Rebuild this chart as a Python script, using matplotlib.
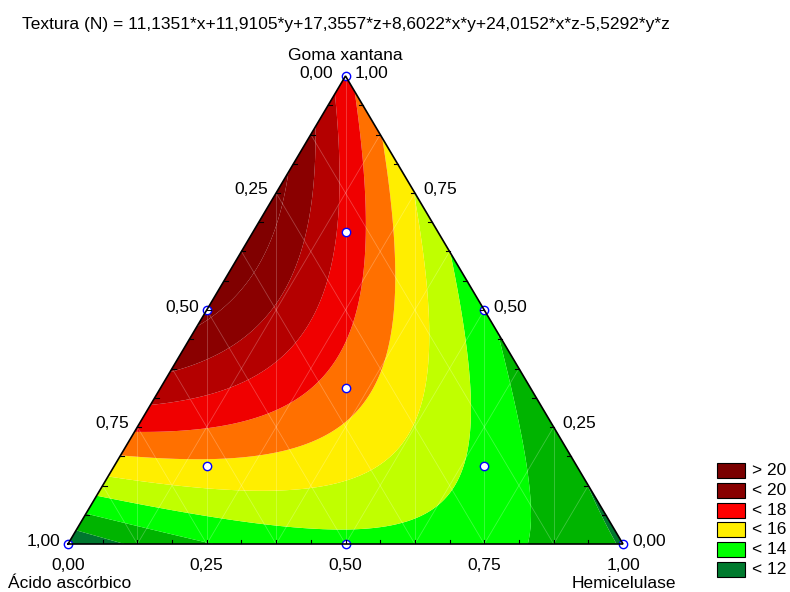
import numpy as np
import matplotlib
matplotlib.use('Agg')
import matplotlib.pyplot as plt
import matplotlib.tri as mtri
from matplotlib.colors import ListedColormap, BoundaryNorm
from matplotlib.patches import Rectangle

plt.rcParams['font.family'] = ['Liberation Sans', 'DejaVu Sans']

# ---- model coefficients (x = Ácido ascórbico, y = Hemicelulase, z = Goma xantana)
c_x, c_y, c_z = 11.1351, 11.9105, 17.3557
c_xy, c_xz, c_yz = 8.6022, 24.0152, -5.5292

title = "Textura (N) = 11,1351*x+11,9105*y+17,3557*z+8,6022*x*y+24,0152*x*z-5,5292*y*z"
name_x, name_y, name_z = "Ácido ascórbico", "Hemicelulase", "Goma xantana"

levels = [10, 12, 13, 14, 15, 16, 17, 18, 19, 20, 22]
band_colors = ['#00772F', '#00B400', '#00FF00', '#C0FF00', '#FFEE00',
               '#FF7000', '#F00000', '#B40000', '#8A0000', '#800000']

legend_labels = ['> 20', '< 20', '< 18', '< 16', '< 14', '< 12']
legend_colors = ['#7A0000', '#880000', '#FF0000', '#FFEE00', '#00FF00', '#007A2E']

tick_values = [0.0, 0.25, 0.5, 0.75, 1.0]
tick_labels = ['0,00', '0,25', '0,50', '0,75', '1,00']

# design points (x, y, z)
dp_x = [1, 0, 0, 0.5, 0.5, 0, 1/3, 2/3, 1/6, 1/6]
dp_y = [0, 1, 0, 0.5, 0, 0.5, 1/3, 1/6, 2/3, 1/6]
dp_z = [0, 0, 1, 0, 0.5, 0.5, 1/3, 1/6, 1/6, 2/3]

W, H = 790, 592
TRI_W, TRI_H = 555, 468
h = TRI_H / TRI_W


def to_xy(x, y, z):
    x, y, z = np.asarray(x, float), np.asarray(y, float), np.asarray(z, float)
    s = x + y + z
    return (y + z / 2) / s, z * h / s


def model(x, y, z):
    return c_x*x + c_y*y + c_z*z + c_xy*x*y + c_xz*x*z + c_yz*y*z


fig = plt.figure(figsize=(W/100, H/100), dpi=100)
ax = fig.add_axes([68/W, (H-544)/H, TRI_W/W, TRI_H/H])
ax.set_xlim(0, 1)
ax.set_ylim(0, h)
ax.axis('off')

# mesh for contouring
n = 120
pts = [(i/n, j/n) for i in range(n+1) for j in range(n+1-i)]
gx = np.array([p[0] for p in pts])
gy = np.array([p[1] for p in pts])
gz = np.clip(1 - gx - gy, 0, 1)
X, Y = to_xy(gx, gy, gz)
Z = model(gx, gy, gz)
tri = mtri.Triangulation(X, Y)
cmap = ListedColormap(band_colors)
norm = BoundaryNorm(levels, cmap.N)
ax.tricontourf(tri, Z, levels=levels, cmap=cmap, norm=norm, zorder=1, antialiased=True)

# faint mesh lines
m = 8
for k in range(1, m):
    v = k / m
    a = to_xy([1 - v, 0], [v, v], [0, 1 - v])
    ax.plot(a[0], a[1], color='white', alpha=0.25, lw=0.6, zorder=2)
    a = to_xy([v, v], [1 - v, 0], [0, 1 - v])
    ax.plot(a[0], a[1], color='white', alpha=0.25, lw=0.6, zorder=2)
    top = h * (1 - abs(2 * v - 1))
    ax.plot([v, v], [0, top], color='white', alpha=0.25, lw=0.6, zorder=2)

# triangle border
bx, by = to_xy([1, 0, 0, 1], [0, 1, 0, 0], [0, 0, 1, 0])
ax.plot(bx, by, color='black', lw=1.2, zorder=5, clip_on=False, solid_joinstyle='miter')

# minor ticks every 1/16
tl = 4 / TRI_W
for k in range(1, 16):
    v = k / 16
    px, py = to_xy(1 - v, v, 0)
    ax.plot([px, px], [py, py + tl], color='black', lw=0.8, zorder=5)
    px, py = to_xy(1 - v, 0, v)
    ax.plot([px, px + tl], [py, py], color='black', lw=0.8, zorder=5)
    px, py = to_xy(0, 1 - v, v)
    ax.plot([px, px - tl], [py, py], color='black', lw=0.8, zorder=5)

# design points
px, py = to_xy(dp_x, dp_y, dp_z)
ax.plot(px, py, 'o', ms=6, mfc='white', mec='#0000FF', mew=1.0, ls='none',
        zorder=4, clip_on=False)

fs = 12.5
for v, lab in zip(tick_values, tick_labels):
    px, py = to_xy(v, 0, 1 - v)
    dx = -12 if v == 0 else -8
    ax.annotate(lab, (px, py), xytext=(dx * 0.72, 3 * 0.72), textcoords='offset points',
                ha='right', va='center', fontsize=fs, annotation_clip=False)
for v, lab in zip(tick_values, tick_labels):
    px, py = to_xy(0, 1 - v, v)
    ax.annotate(lab, (px, py), xytext=(9 * 0.72, 3 * 0.72), textcoords='offset points',
                ha='left', va='center', fontsize=fs, annotation_clip=False)
for v, lab in zip(tick_values, tick_labels):
    px, py = to_xy(1 - v, v, 0)
    ax.annotate(lab, (px, py), xytext=(0, -21 * 0.72), textcoords='offset points',
                ha='center', va='center', fontsize=fs, annotation_clip=False)

fig.text(345/W, 1 - 55/H, name_z, ha='center', va='center', fontsize=fs)
fig.text(8/W, 1 - 583/H, name_x, ha='left', va='center', fontsize=fs)
fig.text(676/W, 1 - 583/H, name_y, ha='right', va='center', fontsize=fs)

fig.text(22/W, 1 - 25/H, title, ha='left', va='center', fontsize=fs)

for i, (lab, col) in enumerate(zip(legend_labels, legend_colors)):
    cy = 470.5 + i * 19.8
    fig.patches.append(Rectangle((717/W, 1 - (cy + 7.5)/H), 28/W, 15/H,
                                 transform=fig.transFigure, facecolor=col,
                                 edgecolor='black', lw=0.8))
    fig.text(752/W, 1 - cy/H, lab, ha='left', va='center', fontsize=fs)

fig.savefig('out.png', dpi=100)
